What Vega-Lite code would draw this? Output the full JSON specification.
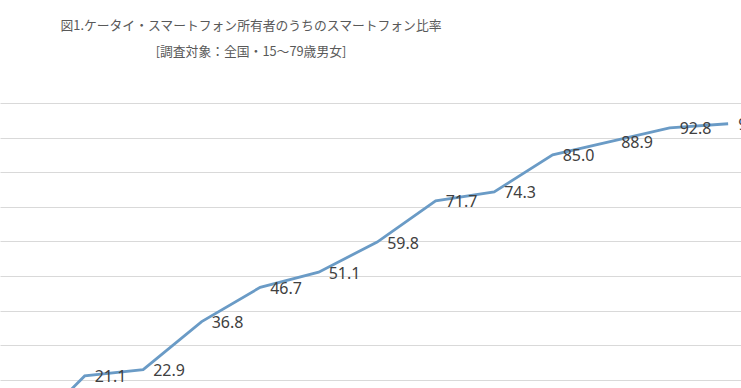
{
  "$schema": "https://vega.github.io/schema/vega-lite/v6.json",
  "width": 741,
  "height": 285,
  "autosize": {"type": "none"},
  "padding": {"top": 103, "left": 0, "right": 0, "bottom": 0},
  "background": "white",
  "title": {
    "text": ["図1.ケータイ・スマートフォン所有者のうちのスマートフォン比率", "[調査対象：全国・15～79歳男女]"],
    "anchor": "start",
    "align": "center",
    "dx": 251,
    "offset": 44,
    "font": "Noto Sans CJK JP",
    "fontSize": 12.8,
    "fontWeight": "normal",
    "color": "#595959",
    "lineHeight": 26
  },
  "data": {
    "values": [
      {"i": 0, "v": 4.1},
      {"i": 1, "v": 21.1},
      {"i": 2, "v": 22.9},
      {"i": 3, "v": 36.8},
      {"i": 4, "v": 46.7},
      {"i": 5, "v": 51.1},
      {"i": 6, "v": 59.8},
      {"i": 7, "v": 71.7},
      {"i": 8, "v": 74.3},
      {"i": 9, "v": 85.0},
      {"i": 10, "v": 88.9},
      {"i": 11, "v": 92.8},
      {"i": 12, "v": 94.0}
    ]
  },
  "encoding": {
    "x": {
      "field": "i",
      "type": "quantitative",
      "scale": {"domain": [-0.448, 12.22], "nice": false, "zero": false},
      "axis": null
    },
    "y": {
      "field": "v",
      "type": "quantitative",
      "scale": {"domain": [17.6, 100], "nice": false, "zero": false},
      "axis": {
        "values": [20, 30, 40, 50, 60, 70, 80, 90, 100],
        "labels": false,
        "ticks": false,
        "domain": false,
        "title": null,
        "grid": true,
        "gridColor": "#D9D9D9",
        "gridWidth": 1
      }
    }
  },
  "layer": [
    {
      "mark": {"type": "line", "color": "#6A9BC6", "strokeWidth": 2.8, "clip": true}
    },
    {
      "mark": {
        "type": "text",
        "align": "left",
        "baseline": "middle",
        "dx": 10,
        "dy": 1.5,
        "font": "Noto Sans",
        "fontSize": 16,
        "color": "#404040",
        "clip": true
      },
      "encoding": {
        "text": {"field": "v", "type": "quantitative", "format": ".1f"}
      }
    }
  ],
  "config": {"view": {"stroke": null}}
}
